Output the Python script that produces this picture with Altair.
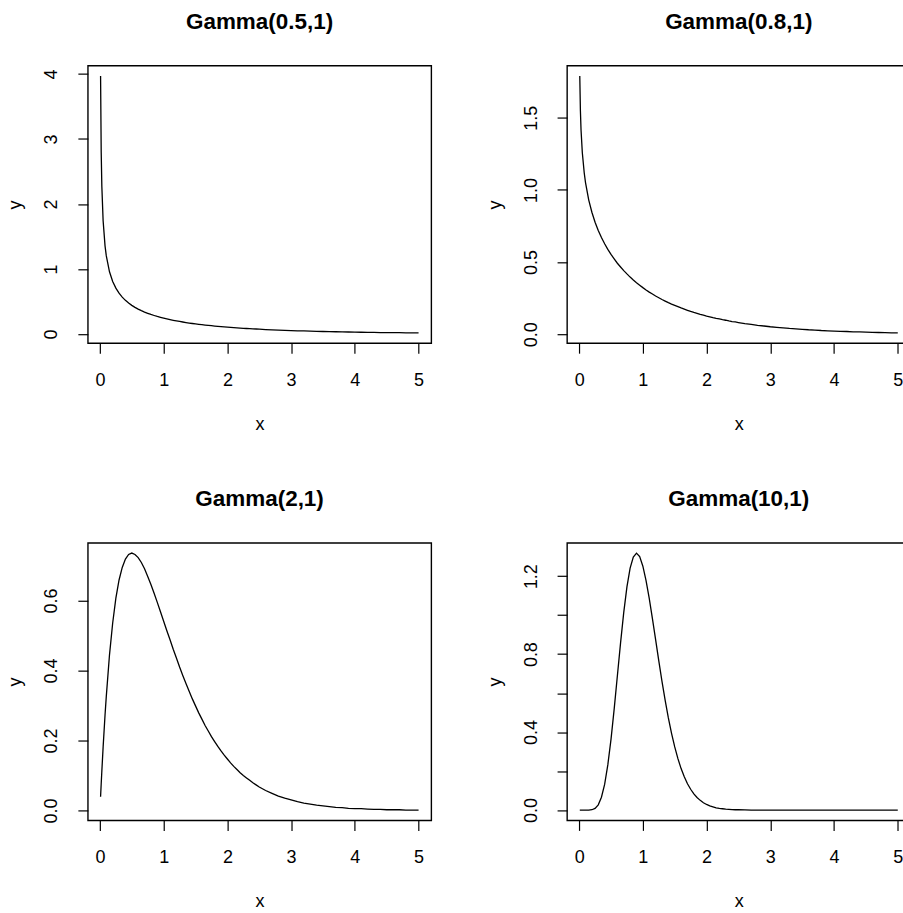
import altair as alt
import pandas as pd

FONT = "Liberation Sans"

xs = [0.01, 0.02, 0.03, 0.05, 0.08, 0.1,
      0.15, 0.2, 0.25, 0.3, 0.35, 0.4, 0.45, 0.5,
      0.55, 0.6, 0.65, 0.7, 0.75, 0.8, 0.85, 0.9, 0.95, 1.0,
      1.05, 1.1, 1.15, 1.2, 1.25, 1.3, 1.35, 1.4, 1.45, 1.5,
      1.55, 1.6, 1.65, 1.7, 1.75, 1.8, 1.85, 1.9, 1.95, 2.0,
      2.05, 2.1, 2.15, 2.2, 2.25, 2.3, 2.35, 2.4, 2.45, 2.5,
      2.6, 2.7, 2.8, 2.9, 3.0, 3.1, 3.2, 3.3, 3.4, 3.5, 3.6, 3.7, 3.8, 3.9,
      4.0, 4.1, 4.2, 4.3, 4.4, 4.5, 4.6, 4.7, 4.8, 4.9, 5.0]

y_a = [3.970, 2.793, 2.269, 1.740, 1.355, 1.200,
       0.956, 0.807, 0.704, 0.627, 0.566, 0.516, 0.475, 0.439,
       0.409, 0.382, 0.358, 0.336, 0.317, 0.299, 0.283, 0.268, 0.255, 0.242,
       0.230, 0.219, 0.209, 0.200, 0.191, 0.183, 0.175, 0.167, 0.160, 0.154,
       0.148, 0.142, 0.136, 0.131, 0.126, 0.121, 0.116, 0.112, 0.108, 0.104,
       0.100, 0.096, 0.093, 0.090, 0.086, 0.083, 0.080, 0.078, 0.075, 0.072,
       0.067, 0.063, 0.059, 0.055, 0.051, 0.048, 0.045, 0.042, 0.040, 0.037,
       0.035, 0.033, 0.031, 0.029, 0.027, 0.025, 0.024, 0.022, 0.021, 0.020,
       0.019, 0.018, 0.017, 0.016, 0.015]

y_b = [1.790, 1.546, 1.414, 1.257, 1.117, 1.051,
       0.931, 0.845, 0.776, 0.719, 0.670, 0.627, 0.588, 0.553,
       0.522, 0.492, 0.466, 0.441, 0.418, 0.396, 0.376, 0.357, 0.340, 0.323,
       0.307, 0.292, 0.279, 0.265, 0.253, 0.241, 0.230, 0.219, 0.209, 0.200,
       0.191, 0.182, 0.174, 0.166, 0.158, 0.151, 0.145, 0.138, 0.132, 0.126,
       0.121, 0.115, 0.110, 0.106, 0.101, 0.097, 0.092, 0.088, 0.085, 0.081,
       0.074, 0.068, 0.062, 0.057, 0.052, 0.048, 0.044, 0.040, 0.037, 0.034,
       0.031, 0.029, 0.026, 0.024, 0.022, 0.020, 0.019, 0.017, 0.016, 0.015,
       0.013, 0.012, 0.011, 0.010, 0.010]

y_c = [0.039, 0.077, 0.113, 0.181, 0.273, 0.327,
       0.445, 0.536, 0.607, 0.659, 0.695, 0.719, 0.732, 0.736,
       0.732, 0.723, 0.709, 0.691, 0.669, 0.646, 0.621, 0.595, 0.568, 0.541,
       0.514, 0.488, 0.461, 0.436, 0.410, 0.386, 0.363, 0.341, 0.319, 0.299,
       0.279, 0.261, 0.243, 0.227, 0.211, 0.197, 0.183, 0.170, 0.158, 0.147,
       0.136, 0.126, 0.117, 0.108, 0.100, 0.093, 0.086, 0.079, 0.073, 0.067,
       0.057, 0.049, 0.041, 0.035, 0.030, 0.025, 0.021, 0.018, 0.015, 0.013,
       0.011, 0.009, 0.008, 0.006, 0.005, 0.005, 0.004, 0.003, 0.003, 0.002,
       0.002, 0.002, 0.001, 0.001, 0.001]

y_d = [0.000, 0.000, 0.000, 0.000, 0.000, 0.000,
       0.000, 0.002, 0.009, 0.027, 0.066, 0.132, 0.232, 0.363,
       0.519, 0.689, 0.858, 1.014, 1.145, 1.241, 1.298, 1.318, 1.300, 1.251,
       1.177, 1.086, 0.982, 0.874, 0.765, 0.660, 0.563, 0.473, 0.394, 0.324,
       0.264, 0.213, 0.171, 0.135, 0.107, 0.083, 0.065, 0.050, 0.038, 0.029,
       0.022, 0.017, 0.012, 0.009, 0.007, 0.005, 0.004, 0.003, 0.002, 0.002,
       0.001, 0.000, 0.000, 0.000, 0.000, 0.000, 0.000, 0.000, 0.000, 0.000,
       0.000, 0.000, 0.000, 0.000, 0.000, 0.000, 0.000, 0.000, 0.000, 0.000,
       0.000, 0.000, 0.000, 0.000, 0.000]

titles = ["Gamma(0.5,1)", "Gamma(0.8,1)", "Gamma(2,1)", "Gamma(10,1)"]
x_ticks = [0, 1, 2, 3, 4, 5]
y_ticks = [[0, 1, 2, 3, 4],
           [0.0, 0.5, 1.0, 1.5],
           [0.0, 0.2, 0.4, 0.6],
           [0.0, 0.2, 0.4, 0.6, 0.8, 1.0, 1.2]]
y_formats = ["d", ".1f", ".1f", ".1f"]
y_domains = [[-0.143, 4.128], [-0.062, 1.861], [-0.0285, 0.7652], [-0.0527, 1.3707]]
x_domain = [-0.1896, 5.1996]

W, H = 344, 278


def panel(vals, title, ydom, yt, fmt, label_expr=None):
    df = pd.DataFrame({"x": xs, "y": vals})
    ykw = dict(values=yt, format=fmt, labelAngle=270, labelAlign="center",
               labelBaseline="middle", labelPadding=26, tickSize=10,
               title="y", titleAngle=270, titleX=-72, titleY=H / 2,
               titleAlign="center", titleBaseline="middle",
               labelOverlap=False, labelFlush=False)
    if label_expr:
        ykw["labelExpr"] = label_expr
    return (
        alt.Chart(df)
        .mark_line(color="black", strokeWidth=1.3)
        .encode(
            x=alt.X("x:Q", scale=alt.Scale(domain=x_domain, nice=False, zero=False),
                    axis=alt.Axis(values=x_ticks, format="d", labelPadding=27,
                                  labelBaseline="middle", tickSize=10,
                                  title="x", titleY=81, titleBaseline="middle",
                                  labelOverlap=False, labelFlush=False)),
            y=alt.Y("y:Q", scale=alt.Scale(domain=ydom, nice=False, zero=False),
                    axis=alt.Axis(**ykw)),
        )
        .properties(
            width=W, height=H,
            title=alt.Title(title, fontSize=22.5, fontWeight="bold", font=FONT,
                            anchor="middle", frame="group", offset=32, color="black"),
        )
    )


panels = []
for i, vals in enumerate([y_a, y_b, y_c, y_d]):
    expr = None
    if i == 3:
        expr = "indexof(['0.0','0.4','0.8','1.2'], datum.label) >= 0 ? datum.label : ''"
    panels.append(panel(vals, titles[i], y_domains[i], y_ticks[i], y_formats[i], expr))

chart = (
    alt.concat(*panels, columns=2, spacing={"row": 200, "column": 136}, bounds="flush")
    .properties(padding={"left": 6, "top": 9, "right": -8.5, "bottom": 0}, background="white")
    .configure_view(stroke="black", strokeWidth=1.4)
    .configure_axis(labelFont=FONT, labelFontSize=18, labelColor="black",
                    titleFont=FONT, titleFontSize=18, titleFontWeight="normal",
                    titleColor="black", tickColor="black", tickWidth=1.2,
                    domain=False, grid=False)
)

chart.save("out.html", embed_options={"renderer": "svg", "actions": False})
